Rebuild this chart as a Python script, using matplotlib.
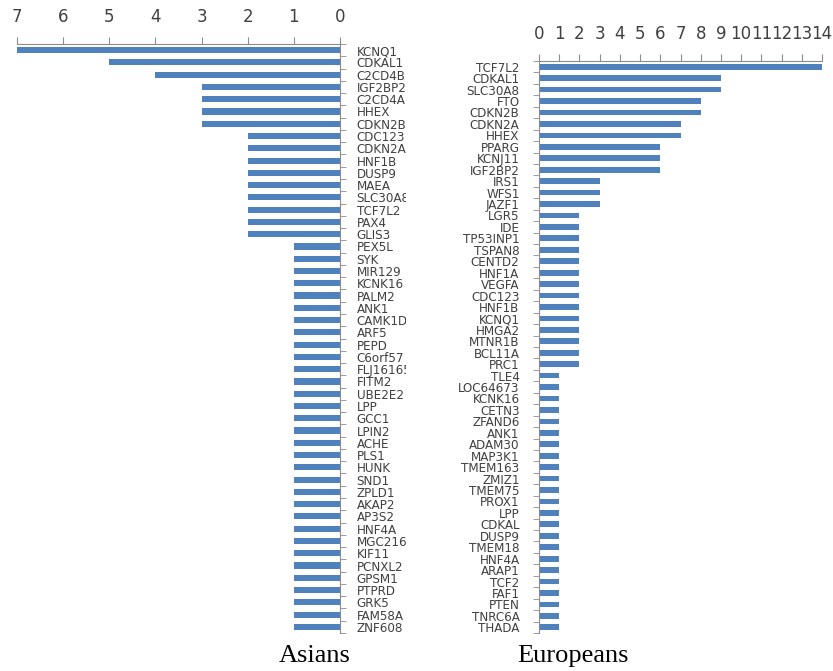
import matplotlib.pyplot as plt
from matplotlib.transforms import Bbox, TransformedBbox
import numpy as np

# Genes reported per population (counts)
asian_genes = ["KCNQ1", "CDKAL1", "C2CD4B", "IGF2BP2", "C2CD4A", "HHEX", "CDKN2B",
               "CDC123", "CDKN2A", "HNF1B", "DUSP9", "MAEA", "SLC30A8", "TCF7L2",
               "PAX4", "GLIS3", "PEX5L", "SYK", "MIR129", "KCNK16", "PALM2", "ANK1",
               "CAMK1D", "ARF5", "PEPD", "C6orf57", "FLJ16165", "FITM2", "UBE2E2",
               "LPP", "GCC1", "LPIN2", "ACHE", "PLS1", "HUNK", "SND1", "ZPLD1",
               "AKAP2", "AP3S2", "HNF4A", "MGC21675", "KIF11", "PCNXL2", "GPSM1",
               "PTPRD", "GRK5", "FAM58A", "ZNF608"]
asian_counts = [7, 5, 4, 3, 3, 3, 3,
                2, 2, 2, 2, 2, 2, 2,
                2, 2, 1, 1, 1, 1, 1, 1,
                1, 1, 1, 1, 1, 1, 1,
                1, 1, 1, 1, 1, 1, 1, 1,
                1, 1, 1, 1, 1, 1, 1,
                1, 1, 1, 1]

euro_genes = ["TCF7L2", "CDKAL1", "SLC30A8", "FTO", "CDKN2B", "CDKN2A", "HHEX",
              "PPARG", "KCNJ11", "IGF2BP2", "IRS1", "WFS1", "JAZF1", "LGR5", "IDE",
              "TP53INP1", "TSPAN8", "CENTD2", "HNF1A", "VEGFA", "CDC123", "HNF1B",
              "KCNQ1", "HMGA2", "MTNR1B", "BCL11A", "PRC1", "TLE4", "LOC64673",
              "KCNK16", "CETN3", "ZFAND6", "ANK1", "ADAM30", "MAP3K1", "TMEM163",
              "ZMIZ1", "TMEM75", "PROX1", "LPP", "CDKAL", "DUSP9", "TMEM18",
              "HNF4A", "ARAP1", "TCF2", "FAF1", "PTEN", "TNRC6A", "THADA"]
euro_counts = [14, 9, 9, 8, 8, 7, 7,
               6, 6, 6, 3, 3, 3, 2, 2,
               2, 2, 2, 2, 2, 2, 2,
               2, 2, 2, 2, 2, 1, 1,
               1, 1, 1, 1, 1, 1, 1,
               1, 1, 1, 1, 1, 1, 1,
               1, 1, 1, 1, 1, 1, 1]

W, H = 833, 671
BLUE = "#4F81BD"
GRAY = "#8C8C8C"
TXT = "#404040"
label_font = ["Liberation Sans Narrow", "DejaVu Sans"]


def px_axes(fig, x0, x1, y0, y1):
    return fig.add_axes([x0 / W, 1 - y1 / H, (x1 - x0) / W, (y1 - y0) / H])


def style_axes(ax, genes, counts, xmax, side):
    n = len(genes)
    y = np.arange(n)
    ax.barh(y, counts, height=0.5, color=BLUE)
    ax.set_ylim(n - 0.5, -0.5)
    ax.set_xlim(0, xmax)
    ax.set_yticks(y)
    ax.set_yticks(np.arange(n + 1) - 0.5, minor=True)
    ax.set_yticklabels(genes, family=label_font, fontsize=9.5, color=TXT,
                       fontstretch="condensed")
    ax.set_xticks(range(xmax + 1))
    ax.xaxis.tick_top()
    ax.tick_params(axis="x", colors=GRAY, labelcolor=TXT, labelsize=12, length=5,
                   pad=8, direction="out")
    ax.tick_params(axis="y", which="major", length=0, pad=10)
    ax.tick_params(axis="y", which="minor", length=4, color=GRAY, direction="out")
    for s in ["bottom", "left", "right"]:
        ax.spines[s].set_visible(False)
    ax.spines["top"].set_color(GRAY)
    ax.spines[side].set_visible(True)
    ax.spines[side].set_color(GRAY)


fig = plt.figure(figsize=(W / 100, H / 100), dpi=100)

ax1 = px_axes(fig, 17, 340, 44, 633)
style_axes(ax1, asian_genes, asian_counts, 7, "right")
ax1.invert_xaxis()
ax1.yaxis.tick_right()
ax1.yaxis.set_tick_params(which="both", left=False, right=True)
ax1.tick_params(axis="y", which="major", pad=12)
# labels on the Asian side are cut off in the original
clip = TransformedBbox(Bbox([[0, 0], [406 / W, 1]]), fig.transFigure)
for lab in ax1.get_yticklabels():
    lab.set_clip_on(True)
    lab.set_clip_box(clip)

ax2 = px_axes(fig, 539, 822, 61, 633)
style_axes(ax2, euro_genes, euro_counts, 14, "left")
ax2.tick_params(axis="y", which="major", pad=14)

fig.text(315 / W, 1 - 656 / H, "Asians", family="Liberation Serif", fontsize=19,
         ha="center", va="center")
fig.text(573 / W, 1 - 656 / H, "Europeans", family="Liberation Serif", fontsize=19,
         ha="center", va="center")

fig.savefig("out.png", dpi=100)
